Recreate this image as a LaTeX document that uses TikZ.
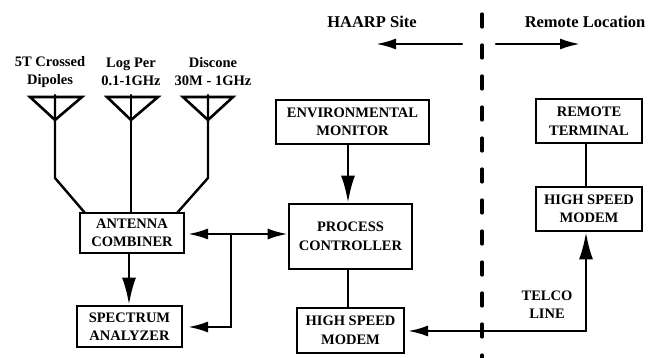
\documentclass[tikz,border=0pt]{standalone}
\usepackage{fontspec}
\setmainfont{Liberation Serif}
\usetikzlibrary{arrows.meta}
\tikzset{
  block/.style={draw,line width=2.7pt,inner sep=0pt,align=center,font=\fontsize{14.5}{18.5}\selectfont\bfseries},
  wire/.style={line width=2.4pt},
  label/.style={inner sep=0pt,align=center,font=\fontsize{14.5}{18}\selectfont\bfseries},
  heading/.style={inner sep=0pt,font=\fontsize{16.5}{18}\selectfont\bfseries},
  antenna/.style={line width=2.6pt,line join=miter},
  bighead/.style={>={Latex[length=27pt,width=14pt]}}
}
\begin{document}
\begin{tikzpicture}[x=1pt,y=-1pt,>={Latex[length=20pt,width=11pt]},cap=round]
        \useasboundingbox (0,0) rectangle (648,358);

        % draw the blocks
        \node[block,minimum width=104pt,minimum height=40pt] (combiner) at (132,233) {ANTENNA\\COMBINER};
        \node[block,minimum width=105pt,minimum height=41pt] (analyzer) at (129.5,326.5) {SPECTRUM\\ANALYZER};
        \node[block,minimum width=123pt,minimum height=65pt] (controller) at (350.5,236.5) {PROCESS\\CONTROLLER};
        \node[block,minimum width=107pt,minimum height=45pt] (modemlocal) at (350.5,330.5) {HIGH SPEED\\MODEM};
        \node[block,minimum width=153pt,minimum height=44pt] (monitor) at (352.5,122) {ENVIRONMENTAL\\MONITOR};
        \node[block,minimum width=106pt,minimum height=44pt] (terminal) at (589,121) {REMOTE\\TERMINAL};
        \node[block,minimum width=106pt,minimum height=44pt] (modemremote) at (589,209) {HIGH SPEED\\MODEM};

        % the antennas, with their labels on top
        \node[label] (crossed) at (50,72) {5T Crossed\\Dipoles};
        \node[label] (logper) at (131,72) {Log Per\\0.1-1GHz};
        \node[label] (discone) at (213,72) {Discone\\30M - 1GHz};
        \draw[antenna] (30,97) -- (82,97) -- (55,120) -- cycle;
        \draw[antenna] (107,97) -- (158,97) -- (131,120) -- cycle;
        \draw[antenna] (183,97) -- (233,97) -- (208,120) -- cycle;
        \coordinate (stema) at (55,95);
        \coordinate (stemb) at (131,95);
        \coordinate (stemc) at (208,95);
        \draw[wire] (stema) -- (55,178) -- (85,213);
        \draw[wire] (stemb) -- (131,213);
        \draw[wire] (stemc) -- (208,178) -- (177,213);

        % draw the connections between the blocks
        \coordinate (junction) at (231,234);
        \coordinate (combinerend) at (188,234);
        \coordinate (analyzerend) at (188,327);
        \coordinate (telcocorner) at (586,331);
        \coordinate (modemend) at (408,331);
        \draw[wire,->] (junction) -- (combinerend);
        \draw[wire,->] (junction) -- (controller.west |- junction);
        \draw[wire,->] (junction) |- (analyzerend);
        \draw[wire,bighead,->] (combiner.south -| 129,0) -- (analyzer.north -| 129,0);
        \draw[wire,bighead,->] (monitor.south -| 348,0) -- (controller.north -| 348,0);
        \draw[wire] (controller.south -| 348,0) -- (modemlocal.north -| 348,0);
        \draw[wire] (terminal.south -| 586,0) -- (modemremote.north -| 586,0);
        \draw[wire,bighead,->] (telcocorner) -- (modemremote.south -| 586,0);
        \draw[wire,->] (telcocorner) -- (modemend);
        \node[label] (telco) at (547,305) {TELCO\\LINE};

        % draw the site boundary and the two headings
        \coordinate (boundtop) at (482,14);
        \coordinate (boundbottom) at (482,358);
        \draw[line width=3.2pt,dash pattern=on 13pt off 18pt,line cap=round] (boundtop) -- (boundbottom);
        \node[heading] (haarp) at (372,22) {HAARP Site};
        \node[heading] (remote) at (585,22) {Remote Location};
        \coordinate (haarpstart) at (462,44);
        \coordinate (haarpend) at (376,44);
        \coordinate (remotestart) at (496,44);
        \coordinate (remoteend) at (580,44);
        \draw[wire,->] (haarpstart) -- (haarpend);
        \draw[wire,->] (remotestart) -- (remoteend);
\end{tikzpicture}
\end{document}
